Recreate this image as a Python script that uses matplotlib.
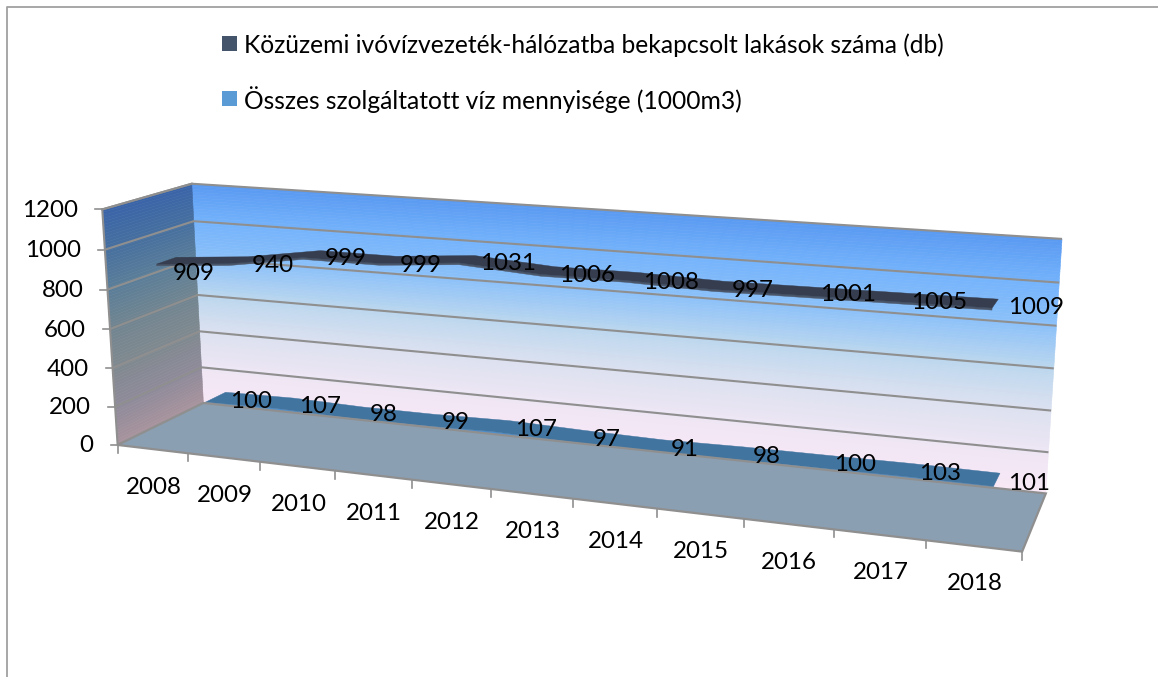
import numpy as np
import matplotlib
matplotlib.use("Agg")
import matplotlib.pyplot as plt
from matplotlib.collections import PolyCollection
from matplotlib.colors import LinearSegmentedColormap
from matplotlib.patches import Polygon, Rectangle

years = ["2008","2009","2010","2011","2012","2013","2014","2015","2016","2017","2018"]
dwellings = [909,940,999,999,1031,1006,1008,997,1001,1005,1009]
water = [100,107,98,99,107,97,91,98,100,103,101]
series_names = ["Közüzemi ivóvízvezeték-hálózatba bekapcsolt lakások száma (db)",
                "Összes szolgáltatott víz mennyisége (1000m3)"]
series_colors = ["#44546a", "#5b9bd5"]
y_ticks = [0,200,400,600,800,1000,1200]

# small label placement corrections, in pixels
dw_dx = [0,7,5,3,10,7,6,0,5,3,3]
dw_dy = [0,-6,-6,-4,-5,-3,-1,-2,-3,0,-1]
wa_dx = [1,1,-6,-6,0,-6,-7,-6,-1,-2,-2]
wa_dy = [0,-1,-2,-2,-1,-1,-1,-1,-2,-1,-1]

W, H = 1158, 677
plt.rcParams['font.family'] = ['Lato', 'DejaVu Sans']
TXT = 17.4
LEG = 17.7
GRID = "#8f8f8f"

# camera fitted to the chart box corners: (cat, value, depth) -> pixel
box = np.array([(0,0,0),(0,1200,0),(0,0,1),(0,1200,1),(11,0,1),(11,1200,1),(11,0,0)], float)
pix = np.array([(118,445),(102,209),(203,403),(192,184),(1046,493),(1062,239),(1022,552)], float)
scale = np.array([11.0,1200.0,1.0])
A = []
for (X,Y,Z),(u,v) in zip(box/scale, pix/1000):
    A.append([X,Y,Z,1,0,0,0,0,-u*X,-u*Y,-u*Z,-u])
    A.append([0,0,0,0,X,Y,Z,1,-v*X,-v*Y,-v*Z,-v])
P = np.linalg.svd(np.array(A))[2][-1].reshape(3,4)

def proj(x, val, z):
    x, val, z = np.broadcast_arrays(np.asarray(x,float), np.asarray(val,float), np.asarray(z,float))
    h = np.stack([x/11, val/1200, z, np.ones_like(x, dtype=float)], axis=-1) @ P.T
    return h[...,:2]/h[...,2:]*1000

fig = plt.figure(figsize=(W/100, H/100), dpi=100, facecolor="white")
ax = fig.add_axes([0,0,1,1])
ax.set_xlim(0,W); ax.set_ylim(H,0); ax.axis("off")

# chart area border (top and left only)
ax.plot([6.5,6.5,W],[H,6.5,6.5], color="#a0a0a0", lw=1.3, zorder=1)

back_cm = LinearSegmentedColormap.from_list("b",[(0,"#f9e8f6"),(1/6,"#eee6f4"),(2/6,"#dce1f0"),(3/6,"#bcd7ee"),(4/6,"#8cc1f9"),(5/6,"#74b3fb"),(1,"#5a9af2")])
side_cm = LinearSegmentedColormap.from_list("s",[(0,"#a8949d"),(1/6,"#8f8a9a"),(2/6,"#80898f"),(3/6,"#728590"),(4/6,"#5b7e98"),(5/6,"#47709f"),(1,"#3a64a8")])
levels = np.linspace(0,1200,81)

def wall(a0, a1, cm, z):
    polys, cols = [], []
    for v0, v1 in zip(levels[:-1], levels[1:]):
        polys.append(np.vstack([proj(a0[0],v0,a0[1]),proj(a1[0],v0,a1[1]),proj(a1[0],v1,a1[1]),proj(a0[0],v1,a0[1])]))
        cols.append(cm((v0+v1)/2400))
    ax.add_collection(PolyCollection(polys, facecolors=cols, edgecolors=cols, linewidths=0.4, zorder=z))

wall((0,1),(11,1),back_cm,2)
wall((0,0),(0,1),side_cm,2)

for v in y_ticks[1:]:
    p = proj([0,0,11],[v,v,v],[0,1,1])
    ax.plot(p[:,0],p[:,1],color=GRID,lw=1.5,zorder=3,solid_capstyle="butt")
p = proj([0,0],[0,1200],[0,0]); ax.plot(p[:,0],p[:,1],color=GRID,lw=1.5,zorder=3)
p = proj([0,0],[1200,1200],[0,1]); ax.plot(p[:,0],p[:,1],color=GRID,lw=1.5,zorder=3)

def ribbon(vals, x0, step, z0, z1, top, strip, thick, zo):
    xs = x0 + step*np.arange(len(vals))
    vals = np.array(vals,float)
    a = proj(xs, vals, z0); b = proj(xs, vals, z1)
    c = proj(xs, vals-thick, z0)
    ax.add_patch(Polygon(np.vstack([a, c[::-1]]), closed=True, fc=strip, ec=strip, lw=0.3, zorder=zo))
    ax.add_patch(Polygon(np.vstack([a, b[::-1]]), closed=True, fc=top, ec=top, lw=0.3, zorder=zo+0.1))

ribbon(water, 0.47, 1.003, 0.65, 0.9, "#41749f", "#4f90cf", 22, 4)

# floor
fl = proj([0,11,11,0],[0,0,0,0],[0,0,1,1])
ax.add_patch(Polygon(fl, closed=True, fc="#8b9fb2", ec=GRID, lw=1.6, zorder=5, joinstyle="miter"))

ribbon(dwellings, 0.45, 1.005, 0.2, 0.42, "#353d4e", "#4b5669", 9, 6)

# ticks
for i in range(12):
    t = proj(i,0,0)
    ax.plot([t[0],t[0]],[t[1],t[1]+8],color=GRID,lw=1.2,zorder=4)
for i, y in enumerate(years):
    t = proj(i+0.5,0,0)
    ax.text(t[0]+1,t[1]+38,y,ha="center",va="center",fontsize=TXT,color="black",zorder=9)
for v in y_ticks:
    t = proj(0,v,0)
    ax.plot([t[0]-7,t[0]],[t[1],t[1]],color=GRID,lw=1.2,zorder=4)
    ax.text(t[0]-24,t[1]+1,str(v),ha="right",va="center",fontsize=TXT,color="black",zorder=9)

# data labels
for i,v in enumerate(dwellings):
    t = proj(0.97+0.995*i, v, 0.2)
    ax.text(t[0]+dw_dx[i],t[1]+6-0.9*i+dw_dy[i],str(v),ha="center",va="center",fontsize=TXT,color="black",zorder=9)
for i,v in enumerate(water):
    t = proj(1.07+0.983*i, v, 0.7)
    ax.text(t[0]+wa_dx[i],t[1]-3+wa_dy[i],str(v),ha="center",va="center",fontsize=TXT,color="black",zorder=9)

# legend
for (name,col,yc) in zip(series_names,series_colors,[43,98]):
    ax.add_patch(Rectangle((222,yc-7.5),15,15,fc=col,ec="none",zorder=9))
    ax.text(244,yc+2,name,ha="left",va="center",fontsize=LEG,color="black",zorder=9)

fig.savefig("out.png",dpi=100)
